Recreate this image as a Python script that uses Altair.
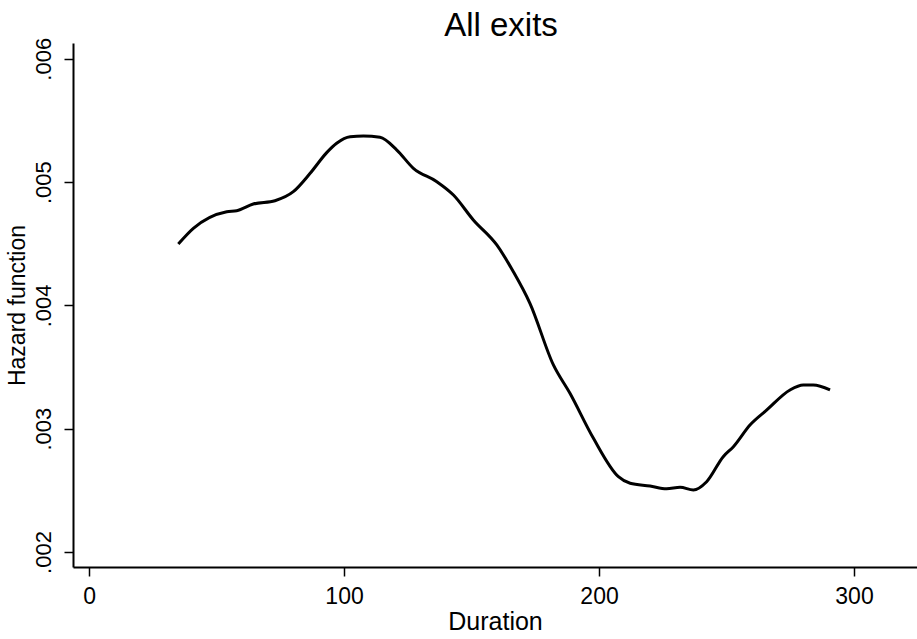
import altair as alt
import pandas as pd

duration = [35.0, 40.9, 54.0, 57.9, 64.4, 72.9, 80.1, 86.7, 93.2, 97.1, 102.4, 107.6,
            114.1, 120.7, 127.2, 136.4, 142.9, 150.7, 159.9, 166.4, 172.9, 182.1,
            188.6, 197.8, 207.6, 212.2, 220.0, 226.5, 231.8, 237.0, 242.2, 248.7,
            252.7, 259.2, 265.8, 274.9, 280.1, 284.0, 290.6]
hazard = [0.004498, 0.004625, 0.00476, 0.004768, 0.004822, 0.004849, 0.004922,
          0.005071, 0.005239, 0.005315, 0.005368, 0.005374, 0.005363, 0.00526,
          0.005112, 0.005003, 0.004895, 0.004693, 0.00449, 0.004273, 0.004017,
          0.003517, 0.003287, 0.002922, 0.002611, 0.002557, 0.002535, 0.002513,
          0.002525, 0.002503, 0.00257, 0.002773, 0.002854, 0.00303, 0.003152,
          0.003314, 0.003354, 0.003354, 0.003314]
x_ticks = [0, 100, 200, 300]
y_ticks = [0.002, 0.003, 0.004, 0.005, 0.006]

df = pd.DataFrame({"Duration": duration, "Hazard": hazard})

FONT = "Liberation Sans"

chart = alt.Chart(df).mark_line(color="black", strokeWidth=3, interpolate="monotone").encode(
    x=alt.X("Duration:Q",
            scale=alt.Scale(domain=[-6.3, 324.7], nice=False, zero=False),
            axis=alt.Axis(values=x_ticks, title="Duration", grid=False,
                          domainColor="black", domainWidth=2, tickColor="black",
                          tickSize=9, tickWidth=1.5, labelFont=FONT, labelFontSize=23,
                          labelColor="black", labelPadding=9, titleFont=FONT,
                          titleFontSize=25, titleFontWeight="normal", titleColor="black",
                          titlePadding=1, labelFlush=False)),
    y=alt.Y("Hazard:Q",
            scale=alt.Scale(domain=[0.0018783, 0.006128], nice=False, zero=False),
            axis=alt.Axis(values=y_ticks, title="Hazard function", grid=False,
                          labelExpr="substring(format(datum.value, '.3f'), 1)",
                          labelAngle=-90, labelAlign="center", labelBaseline="bottom",
                          domainColor="black", domainWidth=2, tickColor="black",
                          tickSize=9, tickWidth=1.5, labelFont=FONT, labelFontSize=22,
                          labelColor="black", labelPadding=9, titleFont=FONT,
                          titleFontSize=23, titleFontWeight="normal", titleColor="black",
                          titlePadding=3, labelFlush=False)),
).properties(
    width=844, height=524,
    background="white",
    title=alt.TitleParams("All exits", font=FONT, fontSize=33, fontWeight="normal",
                          color="black", anchor="middle", dx=6, offset=-6),
    padding={"left": 73, "top": 43, "right": 0, "bottom": 72},
    autosize=alt.AutoSizeParams(type="none"),
).configure_view(stroke="transparent", strokeWidth=0)

chart.save("out.html", embed_options={"renderer": "svg", "actions": False})
